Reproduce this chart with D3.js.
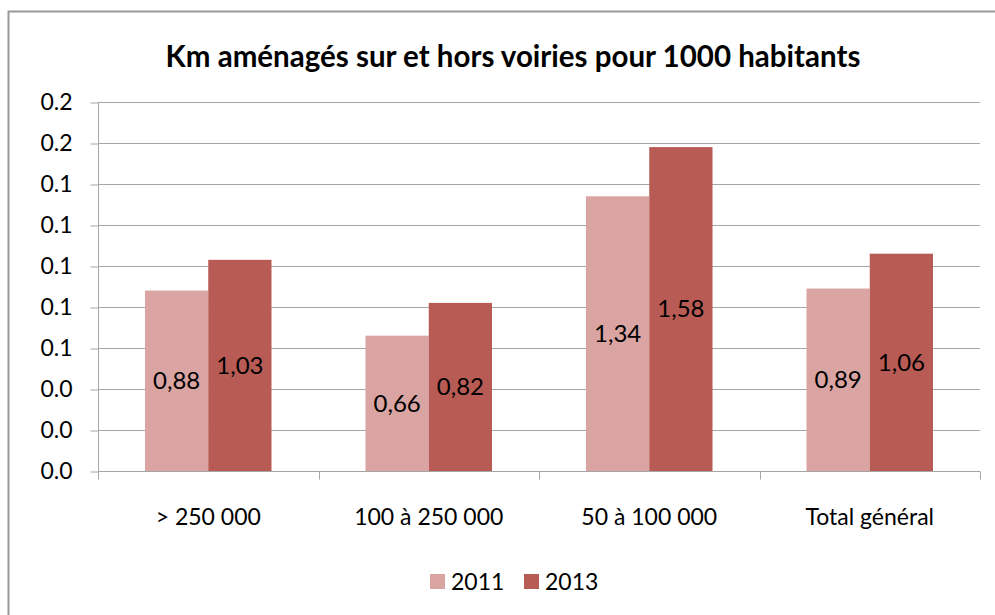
<!DOCTYPE html>
<html>
<head>
<meta charset="utf-8">
<script src="https://cdn.jsdelivr.net/npm/d3@7"></script>
<style>
  body { margin: 0; background: #fff; }
  text { font-family: Lato, "Open Sans", sans-serif; fill: #000; }
</style>
</head>
<body>
<svg id="chart" width="995" height="615"></svg>
<script>
// categories and series
var categories = ["> 250 000", "100 à 250 000", "50 à 100 000", "Total général"];
var years = ["2011", "2013"];
var values2011 = [0.88, 0.66, 1.34, 0.89];
var values2013 = [1.03, 0.82, 1.58, 1.06];
// tick values and the labels Excel printed for them
var tickValues = [0, 0.2, 0.4, 0.6, 0.8, 1.0, 1.2, 1.4, 1.6, 1.8];
var tickLabels = ["0.0", "0.0", "0.0", "0.1", "0.1", "0.1", "0.1", "0.1", "0.2", "0.2"];
var colors = ["#d9a4a1", "#b85b54"];

var svg = d3.select("#chart");
var plotLeft = 98, plotRight = 980, plotTop = 102, plotBottom = 471;

// chart frame
svg.append("rect")
  .attr("x", 8.5).attr("y", 11.5)
  .attr("width", 1000).attr("height", 700)
  .attr("fill", "none").attr("stroke", "#999").attr("stroke-width", 2);

svg.append("text")
  .attr("x", 513).attr("y", 67)
  .attr("text-anchor", "middle")
  .style("font-size", "29.5px").style("font-weight", "bold")
  .text("Km aménagés sur et hors voiries pour 1000 habitants");

var y = d3.scaleLinear().domain([0, 1.8]).range([plotBottom, plotTop]);
var x0 = d3.scaleBand().domain(categories).range([plotLeft, plotRight]);
var x1 = d3.scaleBand().domain(years).range([47, x0.bandwidth() - 47]);

// gridlines
svg.append("g").selectAll("line")
  .data(tickValues.slice(1))
  .enter().append("line")
  .attr("x1", plotLeft).attr("x2", plotRight)
  .attr("y1", function(d) { return Math.round(y(d)) + 0.5; })
  .attr("y2", function(d) { return Math.round(y(d)) + 0.5; })
  .attr("stroke", "#a6a6a6");

// y axis
var yAxis = svg.append("g")
  .attr("transform", "translate(" + (plotLeft + 0.5) + ",0.5)")
  .call(d3.axisLeft(y).tickValues(tickValues).tickSize(8).tickPadding(18)
    .tickFormat(function(d, i) { return tickLabels[i]; }));
yAxis.selectAll("text").style("font-size", "23px").style("font-family", "Lato, 'Open Sans', sans-serif").attr("fill", "#000");
yAxis.selectAll("line, path").attr("stroke", "#a6a6a6");
yAxis.select(".domain").attr("d", "M0," + Math.round(plotBottom) + "V" + Math.round(plotTop));

// bars
var series = [values2011, values2013];
var groups = svg.append("g").selectAll("g")
  .data(categories)
  .enter().append("g")
  .attr("transform", function(d) { return "translate(" + x0(d) + ",0)"; });

groups.selectAll("rect")
  .data(function(d, i) { return years.map(function(yr, j) { return {year: yr, v: series[j][i], c: colors[j]}; }); })
  .enter().append("rect")
  .attr("x", function(d) { return x1(d.year); })
  .attr("width", x1.bandwidth())
  .attr("y", function(d) { return y(d.v); })
  .attr("height", function(d) { return plotBottom - y(d.v); })
  .attr("fill", function(d) { return d.c; });

groups.selectAll("text")
  .data(function(d, i) { return years.map(function(yr, j) { return {year: yr, v: series[j][i]}; }); })
  .enter().append("text")
  .attr("x", function(d) { return x1(d.year) + x1.bandwidth() / 2; })
  .attr("y", function(d) { return (y(d.v) + plotBottom) / 2; })
  .attr("dy", "0.35em")
  .attr("text-anchor", "middle")
  .style("font-size", "24px")
  .text(function(d) { return d.v.toFixed(2).replace(".", ","); });

// x axis
var xAxis = svg.append("g")
  .attr("transform", "translate(0," + (Math.round(plotBottom) + 0.5) + ")")
  .call(d3.axisBottom(x0).tickSize(0).tickPadding(37));
xAxis.select(".domain").attr("stroke", "#a6a6a6").attr("d", "M" + plotLeft + ",0H" + plotRight);
xAxis.selectAll("text").style("font-size", "23px").style("font-family", "Lato, 'Open Sans', sans-serif").attr("fill", "#000");
xAxis.selectAll(".bound")
  .data(d3.range(categories.length + 1))
  .enter().append("line")
  .attr("x1", function(i) { return Math.round(plotLeft + i * x0.step()) + 0.5; })
  .attr("x2", function(i) { return Math.round(plotLeft + i * x0.step()) + 0.5; })
  .attr("y1", 0).attr("y2", 8)
  .attr("stroke", "#a6a6a6");

// legend
var legend = svg.append("g").selectAll("g")
  .data(years)
  .enter().append("g")
  .attr("transform", function(d, i) { return "translate(" + (430 + i * 94) + ",574)"; });
legend.append("rect").attr("width", 15).attr("height", 15)
  .attr("fill", function(d, i) { return colors[i]; });
legend.append("text").attr("x", 21).attr("y", 8).attr("dy", "0.35em")
  .style("font-size", "23px")
  .text(function(d) { return d; });
</script>
</body>
</html>
